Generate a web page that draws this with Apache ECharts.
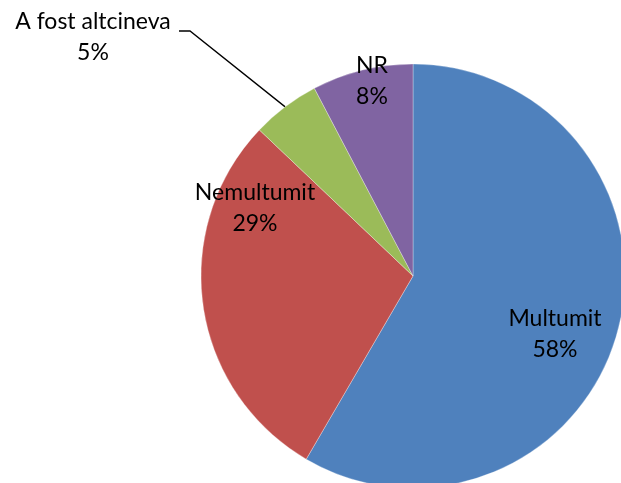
<!DOCTYPE html>
<html>
<head>
<meta charset="utf-8">
<script src="https://cdn.jsdelivr.net/npm/echarts@6/dist/echarts.min.js"></script>
<style>
  html, body { margin: 0; padding: 0; background: #fff; }
  #chart { width: 621px; height: 483px; }
</style>
</head>
<body>
<div id="chart"></div>
<script>
// slices, clockwise from 12 o'clock
const categories = ['Multumit', 'Nemultumit', 'A fost altcineva', 'NR'];
const values = [58.4, 28.7, 5.2, 7.7];
const colors = ['#4F81BD', '#C0504D', '#9BBB59', '#8064A2'];

// where each label block sits (centre of the text block)
const labelSpots = [[555, 334], [255, 208], [93, 37], [372, 81]];

const chart = echarts.init(document.getElementById('chart'));

const pieData = categories.map((name, i) => ({
  name: name,
  value: values[i],
  itemStyle: { color: colors[i] },
  label: { position: i === 2 ? 'outside' : 'inside' },
  labelLine: { show: i === 2 }
}));

chart.setOption({
  animation: false,
  series: [{
    type: 'pie',
    center: [413, 276],
    radius: 212,
    startAngle: 90,
    clockwise: true,
    data: pieData,
    itemStyle: { borderColor: 'rgba(255,255,255,0.6)', borderWidth: 0.5 },
    label: {
      formatter: p => p.name + '\n' + Math.round(p.percent) + '%',
      fontFamily: 'Lato',
      fontSize: 23,
      lineHeight: 31,
      color: '#000',
      align: 'center'
    },
    labelLine: {
      lineStyle: { color: '#000', width: 1.3 },
      length: 20,
      length2: 10
    },
    labelLayout: function (params) {
      const spot = labelSpots[params.dataIndex];
      const out = { x: spot[0], y: spot[1], align: 'center', verticalAlign: 'middle' };
      if (params.dataIndex === 2 && params.labelLinePoints) {
        const start = params.labelLinePoints[0];
        out.labelLinePoints = [start, [190, 31], [179, 31]];
      }
      return out;
    }
  }]
});
</script>
</body>
</html>
